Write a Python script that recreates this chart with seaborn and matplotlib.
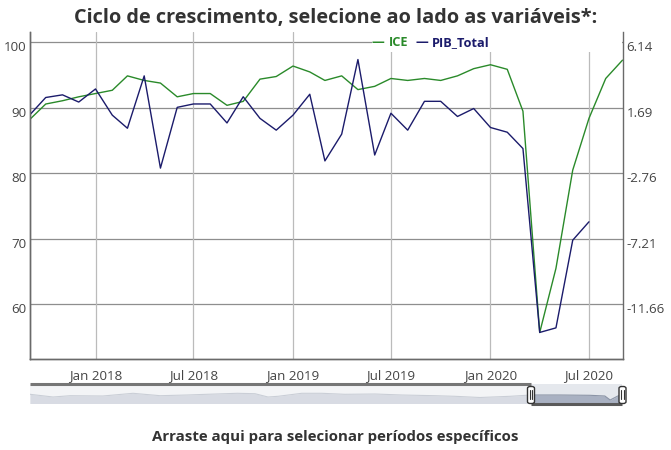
import numpy as np
import pandas as pd
import matplotlib
matplotlib.use("Agg")
import matplotlib.pyplot as plt
import matplotlib.transforms as mtrans
from matplotlib.patches import Rectangle, FancyBboxPatch
import seaborn as sns

# ---------------- data ----------------
ice_dates = pd.date_range("2017-09-01", "2020-09-01", freq="MS")
ice_values = [88.2, 90.6, 91.1, 91.7, 92.2, 92.7, 94.9, 94.2, 93.8, 91.7, 92.2, 92.2,
              90.4, 91.0, 94.4, 94.8, 96.4, 95.5, 94.2, 94.9, 92.8, 93.3, 94.5, 94.2,
              94.5, 94.2, 94.9, 96.0, 96.6, 95.9, 89.5, 55.7, 65.5, 80.5, 88.4, 94.5,
              97.3]
pib_dates = pd.date_range("2017-09-01", "2020-07-01", freq="MS")
pib_values = [1.20, 2.40, 2.58, 2.09, 2.98, 1.20, 0.31, 3.87, -2.40, 1.73, 1.96, 1.96,
              0.67, 2.45, 0.98, 0.18, 1.20, 2.62, -1.91, -0.09, 4.98, -1.51, 1.33, 0.18,
              2.14, 2.14, 1.11, 1.65, 0.36, 0.04, -1.07, -13.57, -13.26, -7.30, -6.05]

left_ticks = [60, 70, 80, 90, 100]
right_ticks = [6.14, 1.69, -2.76, -7.21, -11.66]
x_ticks = ["2018-01-01", "2018-07-01", "2019-01-01", "2019-07-01", "2020-01-01", "2020-07-01"]
x_tick_labels = ["Jan 2018", "Jul 2018", "Jan 2019", "Jul 2019", "Jan 2020", "Jul 2020"]

# navigator (range selector) overview series: position along full history, level
nav_pos = [0.0, 0.039, 0.068, 0.123, 0.174, 0.220, 0.265, 0.299, 0.350, 0.380, 0.402,
           0.419, 0.459, 0.493, 0.532, 0.583, 0.628, 0.684, 0.718, 0.760, 0.811, 0.846,
           0.895, 0.946, 0.971, 0.980, 0.993, 1.0]
nav_level = [9.2, 6.5, 7.8, 7.5, 10.2, 7.8, 8.5, 9.2, 10.2, 9.8, 6.5, 7.2, 10.2, 10.2,
             9.2, 9.5, 8.5, 7.8, 7.2, 6.0, 7.2, 8.5, 8.5, 8.2, 7.5, 3.5, 7.5, 8.5]
nav_window = (0.846, 1.0)

title = "Ciclo de crescimento, selecione ao lado as variáveis*:"
footer = "Arraste aqui para selecionar períodos específicos"
ice_color = "#2a8a2a"
pib_color = "#1b1b6b"

df_ice = pd.DataFrame({"date": ice_dates, "ICE": ice_values})
df_pib = pd.DataFrame({"date": pib_dates, "PIB_Total": pib_values})

# ---------------- figure ----------------
sns.set_theme(style="white")
plt.rcParams["font.family"] = ["Open Sans", "DejaVu Sans"]

W, H = 671, 450
fig = plt.figure(figsize=(W / 100, H / 100), dpi=100)
fig.patch.set_facecolor("white")

def fx(px):
    return px / W

def fy(py):
    return 1 - py / H

ax = fig.add_axes([fx(29.5), fy(359), fx(622.5 - 29.5), (359 - 32) / H])
ax2 = ax.twinx()

sns.lineplot(data=df_ice, x="date", y="ICE", ax=ax, color=ice_color, lw=1.0, legend=False)
sns.lineplot(data=df_pib, x="date", y="PIB_Total", ax=ax2, color=pib_color, lw=1.0,
             legend=False)

ylo, yhi = 51.65, 101.6
ax.set_ylim(ylo, yhi)
conv = lambda v: 1.69 + (v - 90) * 0.445
ax2.set_ylim(conv(ylo), conv(yhi))
ax.set_xlim(ice_dates[0], ice_dates[-1])

ax.set_yticks(left_ticks)
ax.set_yticklabels([str(t) for t in left_ticks])
ax2.set_yticks(right_ticks)
ax2.set_yticklabels([f"{t:.2f}" for t in right_ticks])
ax.set_xticks(pd.to_datetime(x_ticks))
ax.set_xticklabels(x_tick_labels)
for a in (ax, ax2):
    a.set_xlabel("")
    a.set_ylabel("")

# grid
for t in left_ticks:
    ax.axhline(t, color="#8e8e8e", lw=0.9, zorder=0)
for t in pd.to_datetime(x_ticks):
    ax.axvline(t, color="#bbbbbb", lw=0.9, zorder=0)

# spines
for a in (ax, ax2):
    a.spines["top"].set_visible(False)
    for s in ("left", "right", "bottom"):
        a.spines[s].set_color("#6a6a6a")
        a.spines[s].set_linewidth(1.0)
ax.spines["right"].set_visible(False)

tick_kw = dict(labelsize=9.6, labelcolor="#454545", length=0)
ax.tick_params(axis="y", pad=2, **tick_kw)
ax2.tick_params(axis="y", pad=3, **tick_kw)
ax.tick_params(axis="x", pad=7, **tick_kw)

off = mtrans.ScaledTranslation(0, -4 / 100, fig.dpi_scale_trans)
for lab in ax.get_yticklabels() + ax2.get_yticklabels():
    lab.set_transform(lab.get_transform() + off)

# legend box (white, 250px wide, top right)
leg_box = Rectangle((fx(372), fy(52)), fx(250), (52 - 32) / H, transform=fig.transFigure,
                    facecolor="white", edgecolor="none", zorder=5, clip_on=False)
ax2.add_patch(leg_box)
leg_kw = dict(fontsize=9.2, fontweight="bold", va="center", ha="left", zorder=6)
fig.text(fx(372), fy(42.5), "—", color=ice_color, **leg_kw)
fig.text(fx(389), fy(42.5), "ICE", color=ice_color, **leg_kw)
fig.text(fx(415), fy(42.5), "—", color=pib_color, **leg_kw)
fig.text(fx(432), fy(42.5), "PIB_Total", color=pib_color, **leg_kw)

# title and footer
fig.text(0.5, fy(18), title, ha="center", va="center", fontsize=14.3, fontweight="bold",
         color="#333333")
fig.text(0.5, fy(437), footer, ha="center", va="center", fontsize=10.8, fontweight="bold",
         color="#333333")

# ---------------- range selector ----------------
nav = fig.add_axes([fx(30), fy(403.5), fx(592), 19.5 / H])
nav.set_facecolor("#e5e8ed")
nav.set_xlim(0, 1)
nav.set_ylim(0, 19.5)
nav.fill_between(nav_pos, 0, nav_level, color="#a9b1c2", lw=0, zorder=1)
sns.lineplot(x=nav_pos, y=nav_level, ax=nav, color="#8b94a6", lw=0.8, zorder=2,
             legend=False)
nav.axvspan(0, nav_window[0], color="white", alpha=0.55, lw=0, zorder=3)
nav.plot([0, nav_window[0]], [19.5, 19.5], color="#767676", lw=2.2, zorder=4,
         clip_on=False, solid_capstyle="butt")
nav.plot([nav_window[0], nav_window[1]], [0, 0], color="#5a5a5a", lw=2.2, zorder=4,
         clip_on=False, solid_capstyle="butt")
nav.set_xticks([])
nav.set_yticks([])
for s in nav.spines.values():
    s.set_visible(False)

for hx in (531, 622.5):
    hb = FancyBboxPatch((fx(hx - 3.5), fy(403.5)), fx(7), 17 / H,
                        boxstyle="round,pad=0,rounding_size=0.004",
                        transform=fig.transFigure, facecolor="white", edgecolor="#333333",
                        lw=1.0, zorder=10)
    fig.patches.append(hb)
    for dx in (-1.2, 1.2):
        fig.lines.append(plt.Line2D([fx(hx + dx), fx(hx + dx)], [fy(399), fy(390)],
                                    transform=fig.transFigure, color="#333333", lw=0.8,
                                    zorder=11))

fig.savefig("out.png", dpi=100, facecolor="white")
